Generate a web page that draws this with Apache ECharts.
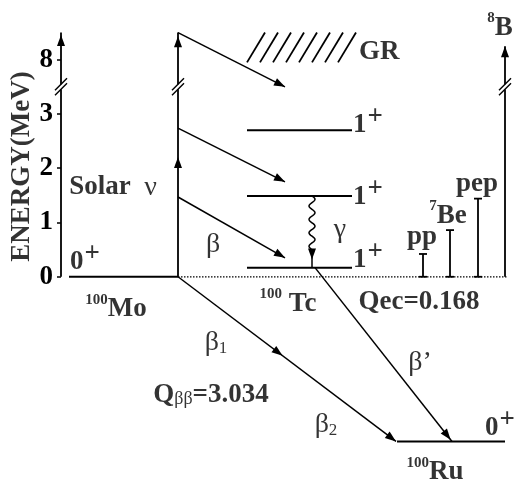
<!DOCTYPE html>
<html>
<head>
<meta charset="utf-8">
<script src="https://cdn.jsdelivr.net/npm/echarts@6/dist/echarts.min.js"></script>
<style>
    html, body { margin: 0; padding: 0; background: #fff; }
    #chart { width: 517px; height: 483px; }
</style>
</head>
<body>
<div id="chart"></div>
<script>
    // energy scale (MeV), broken between 3.5 and 7.5
    var yTicks = [0, 1, 2, 3, 8];
    var breakLow = 3.5, breakHigh = 7.5;

    // nuclear levels: left x, right x, energy
    var levelX0 = [69, 247, 247, 247, 397];
    var levelX1 = [178, 352, 352, 352, 505];
    var levelE = [0, 0.168, 1.49, 2.70, -3.034];

    // transitions: from [x, E], to [x, E], arrow tips along the line
    var transFrom = [[61, 0], [178, 0], [178, 1.47], [178, 2.74], [178, 8.5], [178, 0], [315, 0.168], [312, 0.5], [505, 0]];
    var transTo = [[61, 8.5], [178, 8.5], [285, 0.35], [285, 1.75], [285, 3.5], [396, -3.034], [452, -3.034], [312, 0.168], [505, 8.25]];
    var transArrows = [[0.99], [0.49, 0.985], [1], [1], [1], [0.48, 1], [0.99], [0.55], [1]];
    var transWidth = [1.8, 1.8, 1.5, 1.5, 1.5, 1.5, 1.5, 1.5, 1.8];

    // gamma (wavy) between the 1+ levels
    var gammaX = 312, gammaE = [1.49, 0.5];

    // solar neutrino end points
    var nuX = [423, 450, 478];
    var nuE = [0.42, 0.86, 1.44];

    // broken-axis marks
    var breakX = [61, 178, 505];

    // GR hatched region
    var grX = [247, 355], grE = [7.95, 8.5];

    // text labels: x, E, text
    var labelX = [22, 85, 113, 213, 340, 353, 353, 353, 359, 422, 448, 477, 500, 116, 288, 419, 216, 211, 326, 420, 500, 435];
    var labelE = [2.03, 0.28, 1.65, 0.6, 0.87, 0.31, 1.47, 2.8, 8.15, 0.74, 1.12, 1.71, 8.59, -0.6, -0.5, -0.46, -1.22, -2.17, -2.73, -1.58, -2.78, -3.6];
    var labelText = [
        '{b|ENERGY(MeV)}', '{b|0}{sup|+}', '{b|Solar  }{g|ν}', '{g|β}', '{g|γ}',
        '{b|1}{sup|+}', '{b|1}{sup|+}', '{b|1}{sup|+}', '{b|GR}',
        '{b|pp}', '{sups|7}{b|Be}', '{b|pep}', '{sups|8}{b|B}',
        '{sups|100}{b|Mo}', '{sups|100}{b| Tc}', '{b|Qec=0.168}',
        '{g|β}{sub|1}', '{b|Q}{subg|ββ}{b|=3.034}', '{g|β}{sub|2}', "{g|β’}",
        '{b|0}{sup|+}', '{sups|100}{b|Ru}'
    ];
    var labelAlign = ['center', 'center', 'center', 'center', 'center', 'left', 'left', 'left', 'left',
        'center', 'center', 'center', 'center', 'center', 'center', 'center', 'center', 'center', 'center', 'center', 'center', 'center'];

    var serif = '"Liberation Serif", "Times New Roman", serif';

    function ey(e) {
        if (e <= breakLow) return e;
        if (e >= breakHigh) return e - (breakHigh - breakLow);
        return breakLow;
    }

    function arrowHead(tip, from, len, half) {
        var dx = tip[0] - from[0], dy = tip[1] - from[1];
        var L = Math.sqrt(dx * dx + dy * dy);
        var ux = dx / L, uy = dy / L;
        var bx = tip[0] - ux * len, by = tip[1] - uy * len;
        return {
            type: 'polygon',
            shape: { points: [tip, [bx - uy * half, by + ux * half], [bx + uy * half, by - ux * half]] },
            style: { fill: '#000' }
        };
    }

    var rich = {
        b: { fontFamily: serif, fontWeight: 'bold', fontSize: 27, lineHeight: 27, color: '#000' },
        sup: { fontFamily: serif, fontWeight: 'bold', fontSize: 27, height: 11, lineHeight: 11, color: '#000', verticalAlign: 'top', padding: [0, 0, 0, 1] },
        sups: { fontFamily: serif, fontWeight: 'bold', fontSize: 15, height: 8, lineHeight: 8, color: '#000', verticalAlign: 'top' },
        g: { fontFamily: serif, fontSize: 28, color: '#000' },
        sub: { fontFamily: serif, fontSize: 17, color: '#000', verticalAlign: 'bottom' },
        subg: { fontFamily: serif, fontSize: 18, color: '#000', verticalAlign: 'bottom' }
    };

    var chart = echarts.init(document.getElementById('chart'));
    var tickDisplay = yTicks.map(ey);

    var option = {
        animation: false,
        grid: { left: 0, right: 0, top: 0, bottom: 0 },
        xAxis: { type: 'value', min: 0, max: 517, show: false },
        yAxis: {
            type: 'value', min: -3.8, max: 5.1, offset: -61,
            axisLine: { show: false },
            splitLine: { show: false },
            axisTick: { show: true, customValues: tickDisplay, length: 4, lineStyle: { color: '#000', width: 1.5 } },
            axisLabel: {
                customValues: tickDisplay, margin: 8,
                fontFamily: serif, fontWeight: 'bold', fontSize: 27, color: '#000',
                formatter: function (v) {
                    var i = tickDisplay.indexOf(v);
                    return i >= 0 ? String(yTicks[i]) : '';
                }
            }
        },
        series: [
            {
                // levels and dotted zero line
                type: 'custom', silent: true, clip: false,
                data: levelE.map(function (e, i) { return [levelX0[i], ey(e), levelX1[i]]; }),
                renderItem: function (params, api) {
                    var p0 = api.coord([api.value(0), api.value(1)]);
                    var p1 = api.coord([api.value(2), api.value(1)]);
                    var children = [{
                        type: 'line', shape: { x1: p0[0], y1: p0[1], x2: p1[0], y2: p1[1] },
                        style: { stroke: '#000', lineWidth: 2 }
                    }];
                    if (params.dataIndex === 0) {
                        var q = api.coord([nuX[2] + 30, 0]);
                        children.push({
                            type: 'line', shape: { x1: p1[0], y1: p1[1], x2: q[0], y2: q[1] },
                            style: { stroke: '#000', lineWidth: 1.2, lineDash: [1.5, 1.5] }
                        });
                    }
                    return { type: 'group', children: children };
                }
            },
            {
                // transitions with arrow heads
                type: 'custom', silent: true, clip: false,
                data: transFrom.map(function (f, i) { return [f[0], ey(f[1]), transTo[i][0], ey(transTo[i][1])]; }),
                renderItem: function (params, api) {
                    var p0 = api.coord([api.value(0), api.value(1)]);
                    var p1 = api.coord([api.value(2), api.value(3)]);
                    var children = [{
                        type: 'line', shape: { x1: p0[0], y1: p0[1], x2: p1[0], y2: p1[1] },
                        style: { stroke: '#000', lineWidth: transWidth[params.dataIndex] }
                    }];
                    transArrows[params.dataIndex].forEach(function (f) {
                        var tip = [p0[0] + (p1[0] - p0[0]) * f, p0[1] + (p1[1] - p0[1]) * f];
                        children.push(arrowHead(tip, p0, 11, 4));
                    });
                    return { type: 'group', children: children };
                }
            },
            {
                // gamma wavy line
                type: 'custom', silent: true, clip: false,
                data: [[gammaX, ey(gammaE[0]), ey(gammaE[1])]],
                renderItem: function (params, api) {
                    var a = api.coord([api.value(0), api.value(1)]);
                    var b = api.coord([api.value(0), api.value(2)]);
                    var pts = [], n = 60, len = b[1] - a[1];
                    for (var k = 0; k <= n; k++) {
                        var t = k / n;
                        pts.push([a[0] + 3 * Math.sin(t * Math.PI * 8), a[1] + len * t]);
                    }
                    return { type: 'polyline', shape: { points: pts }, style: { stroke: '#000', lineWidth: 1.5, fill: null } };
                }
            },
            {
                // solar neutrino end points
                type: 'custom', silent: true, clip: false,
                data: nuE.map(function (e, i) { return [nuX[i], ey(e)]; }),
                renderItem: function (params, api) {
                    var t = api.coord([api.value(0), api.value(1)]);
                    var b = api.coord([api.value(0), 0]);
                    return {
                        type: 'group', children: [
                            { type: 'line', shape: { x1: t[0], y1: t[1], x2: b[0], y2: b[1] }, style: { stroke: '#000', lineWidth: 1.8 } },
                            { type: 'line', shape: { x1: t[0] - 4, y1: t[1], x2: t[0] + 4, y2: t[1] }, style: { stroke: '#000', lineWidth: 1.8 } },
                            { type: 'line', shape: { x1: b[0] - 4, y1: b[1], x2: b[0] + 4, y2: b[1] }, style: { stroke: '#000', lineWidth: 1.8 } }
                        ]
                    };
                }
            },
            {
                // break marks
                type: 'custom', silent: true, clip: false,
                data: breakX.map(function (x) { return [x, breakLow]; }),
                renderItem: function (params, api) {
                    var c = api.coord([api.value(0), api.value(1)]);
                    return {
                        type: 'group', children: [
                            { type: 'rect', shape: { x: c[0] - 3, y: c[1] - 2.5, width: 6, height: 5 }, style: { fill: '#fff' } },
                            { type: 'line', shape: { x1: c[0] - 6, y1: c[1] + 3.5, x2: c[0] + 6, y2: c[1] - 8.5 }, style: { stroke: '#000', lineWidth: 1.5 } },
                            { type: 'line', shape: { x1: c[0] - 6, y1: c[1] + 8.5, x2: c[0] + 6, y2: c[1] - 3.5 }, style: { stroke: '#000', lineWidth: 1.5 } }
                        ]
                    };
                }
            },
            {
                // GR hatching
                type: 'custom', silent: true, clip: false,
                data: [[grX[0], ey(grE[0]), grX[1], ey(grE[1])]],
                renderItem: function (params, api) {
                    var a = api.coord([api.value(0), api.value(1)]);
                    var b = api.coord([api.value(2), api.value(3)]);
                    var children = [], slant = 18, step = 13;
                    for (var x = a[0]; x + slant <= b[0] + 1; x += step) {
                        children.push({
                            type: 'line', shape: { x1: x, y1: a[1], x2: x + slant, y2: b[1] },
                            style: { stroke: '#000', lineWidth: 1.8 }
                        });
                    }
                    return { type: 'group', children: children };
                }
            },
            {
                // labels
                type: 'scatter', silent: true, symbolSize: 0, clip: false,
                data: labelText.map(function (t, i) {
                    return {
                        value: [labelX[i], ey(labelE[i])],
                        label: {
                            show: true, position: 'inside', formatter: t, rich: rich,
                            align: labelAlign[i], verticalAlign: 'middle',
                            rotate: i === 0 ? 90 : 0
                        }
                    };
                })
            }
        ]
    };
    chart.setOption(option);
</script>
</body>
</html>
